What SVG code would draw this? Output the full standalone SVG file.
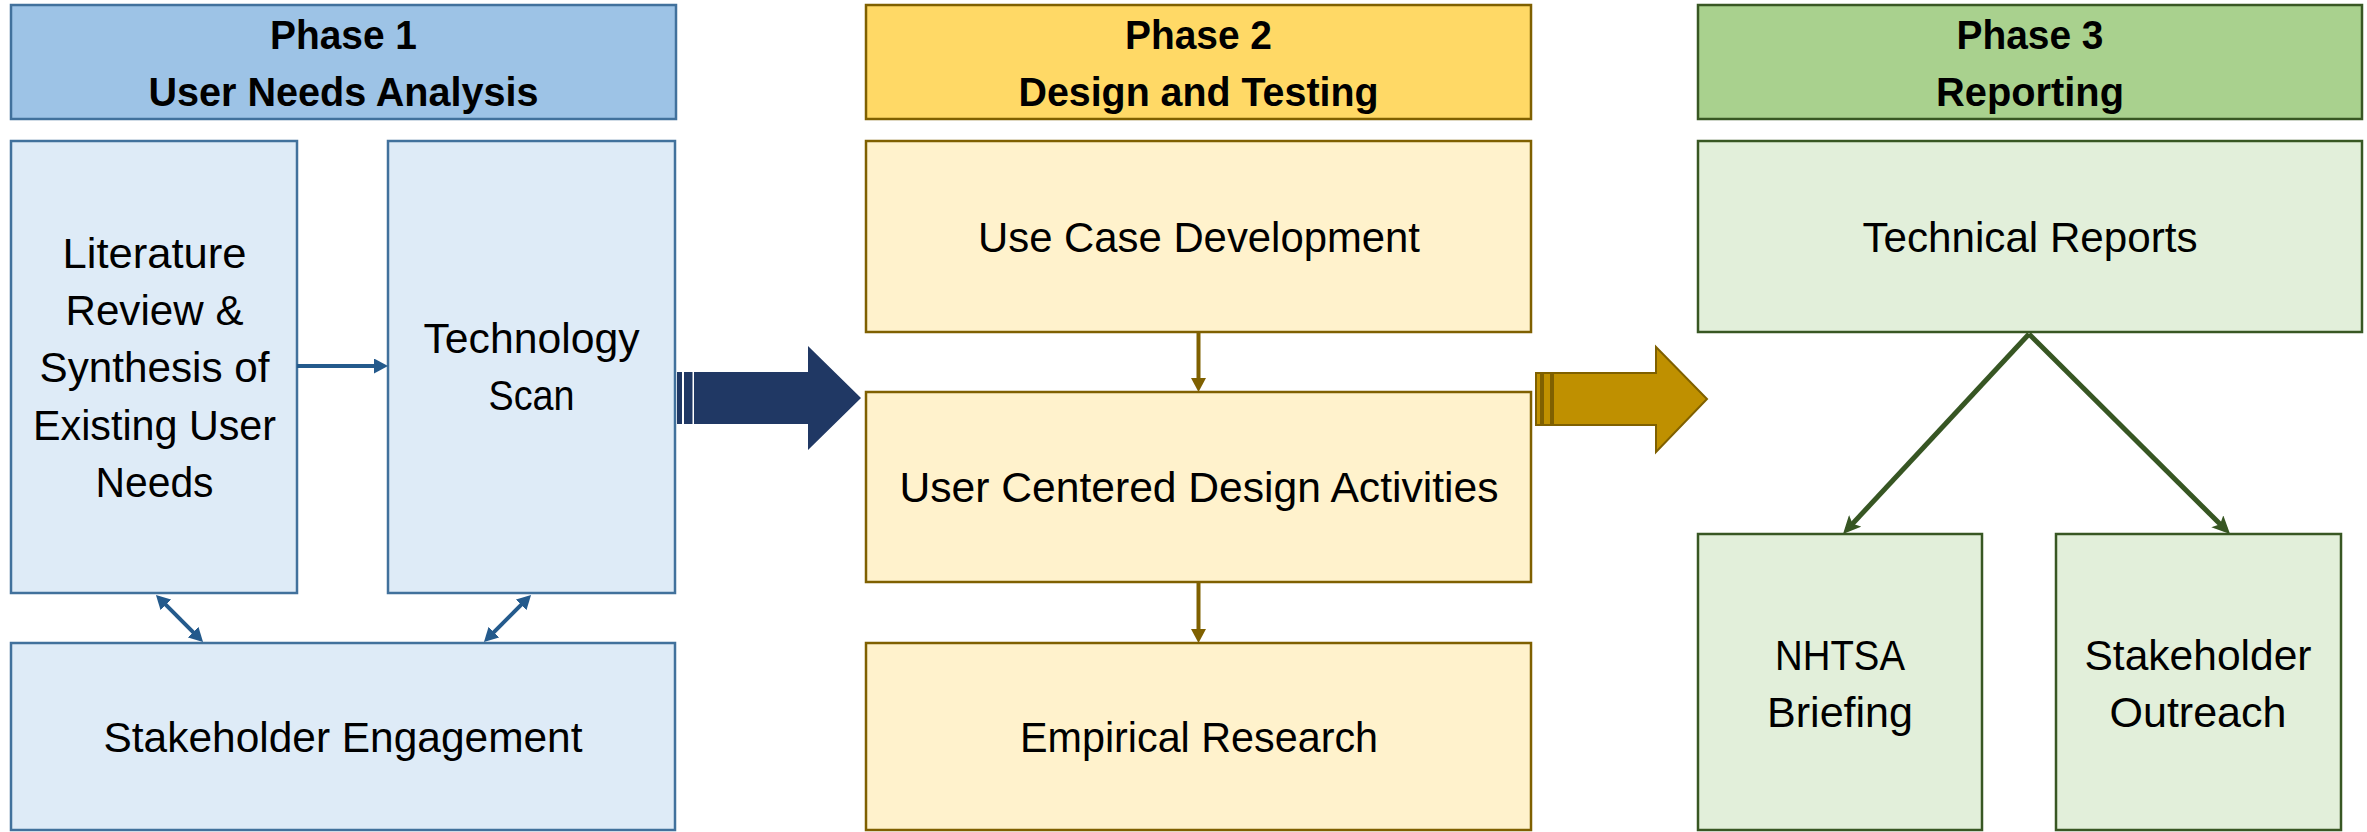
<svg xmlns="http://www.w3.org/2000/svg" width="2367" height="832" viewBox="0 0 2367 832">
  <style>
    text { font-family: "Liberation Sans", Arial, sans-serif; fill: #000; text-anchor: middle; }
    .hd { font-size: 41px; font-weight: bold; }
    .bd { font-size: 42px; }
    .p1h { fill: #9DC3E6; stroke: #41719C; stroke-width: 2.5; }
    .p1b { fill: #DEEBF7; stroke: #41719C; stroke-width: 2.5; }
    .p2h { fill: #FFD966; stroke: #7F6000; stroke-width: 2.5; }
    .p2b { fill: #FFF2CC; stroke: #7F6000; stroke-width: 2.5; }
    .p3h { fill: #A9D18E; stroke: #385723; stroke-width: 2.5; }
    .p3b { fill: #E2EFDA; stroke: #385723; stroke-width: 2.5; }
    .c1 { stroke: #245A8C; stroke-width: 4; fill: none; }
    .c2 { stroke: #7F6000; stroke-width: 4; fill: none; }
    .c3 { stroke: #375623; stroke-width: 5; fill: none; }
  </style>
  <defs>
    <marker id="hBlue" markerUnits="userSpaceOnUse" markerWidth="14" markerHeight="15" refX="8" refY="7.5" orient="auto-start-reverse">
      <path d="M0,0 L14,7.5 L0,15 z" fill="#245A8C"/>
    </marker>
    <marker id="hGold" markerUnits="userSpaceOnUse" markerWidth="14" markerHeight="15" refX="8" refY="7.5" orient="auto">
      <path d="M0,0 L14,7.5 L0,15 z" fill="#7F6000"/>
    </marker>
    <marker id="hGreen" markerUnits="userSpaceOnUse" markerWidth="18" markerHeight="17" refX="12" refY="8.5" orient="auto">
      <path d="M0,0 L18,8.5 L0,17 L4,8.5 z" fill="#375623"/>
    </marker>
  </defs>

  <!-- Phase 1 -->
  <g id="phase1-header">
    <rect class="p1h" x="11" y="5" width="665" height="114"/>
    <text class="hd" x="343.5" y="49" textLength="147" lengthAdjust="spacingAndGlyphs">Phase 1</text>
    <text class="hd" x="343.5" y="106" textLength="390" lengthAdjust="spacingAndGlyphs">User Needs Analysis</text>
  </g>
  <g id="literature-review">
    <rect class="p1b" x="11" y="141" width="286" height="452"/>
    <text class="bd" x="154.5" y="268" textLength="184" lengthAdjust="spacingAndGlyphs">Literature</text>
    <text class="bd" x="154.5" y="325" textLength="178" lengthAdjust="spacingAndGlyphs">Review &amp;</text>
    <text class="bd" x="154.5" y="382" textLength="230" lengthAdjust="spacingAndGlyphs">Synthesis of</text>
    <text class="bd" x="154.5" y="440" textLength="243" lengthAdjust="spacingAndGlyphs">Existing User</text>
    <text class="bd" x="154.5" y="497" textLength="118" lengthAdjust="spacingAndGlyphs">Needs</text>
  </g>
  <g id="technology-scan">
    <rect class="p1b" x="388" y="141" width="287" height="452"/>
    <text class="bd" x="531.5" y="353" textLength="216" lengthAdjust="spacingAndGlyphs">Technology</text>
    <text class="bd" x="531.5" y="410" textLength="86" lengthAdjust="spacingAndGlyphs">Scan</text>
  </g>
  <g id="stakeholder-engagement">
    <rect class="p1b" x="11" y="643" width="664" height="187"/>
    <text class="bd" x="343" y="752" textLength="479" lengthAdjust="spacingAndGlyphs">Stakeholder Engagement</text>
  </g>

  <!-- Phase 2 -->
  <g id="phase2-header">
    <rect class="p2h" x="866" y="5" width="665" height="114"/>
    <text class="hd" x="1198.5" y="49" textLength="147" lengthAdjust="spacingAndGlyphs">Phase 2</text>
    <text class="hd" x="1198.5" y="106" textLength="360" lengthAdjust="spacingAndGlyphs">Design and Testing</text>
  </g>
  <g id="use-case-development">
    <rect class="p2b" x="866" y="141" width="665" height="191"/>
    <text class="bd" x="1199" y="252" textLength="442" lengthAdjust="spacingAndGlyphs">Use Case Development</text>
  </g>
  <g id="ucd-activities">
    <rect class="p2b" x="866" y="392" width="665" height="190"/>
    <text class="bd" x="1199" y="502" textLength="599" lengthAdjust="spacingAndGlyphs">User Centered Design Activities</text>
  </g>
  <g id="empirical-research">
    <rect class="p2b" x="866" y="643" width="665" height="187"/>
    <text class="bd" x="1199" y="752" textLength="358" lengthAdjust="spacingAndGlyphs">Empirical Research</text>
  </g>

  <!-- Phase 3 -->
  <g id="phase3-header">
    <rect class="p3h" x="1698" y="5" width="664" height="114"/>
    <text class="hd" x="2030" y="49" textLength="147" lengthAdjust="spacingAndGlyphs">Phase 3</text>
    <text class="hd" x="2030" y="106" textLength="188" lengthAdjust="spacingAndGlyphs">Reporting</text>
  </g>
  <g id="technical-reports">
    <rect class="p3b" x="1698" y="141" width="664" height="191"/>
    <text class="bd" x="2030" y="252" textLength="335" lengthAdjust="spacingAndGlyphs">Technical Reports</text>
  </g>
  <g id="nhtsa-briefing">
    <rect class="p3b" x="1698" y="534" width="284" height="296"/>
    <text class="bd" x="1840" y="670" textLength="130" lengthAdjust="spacingAndGlyphs">NHTSA</text>
    <text class="bd" x="1840" y="727" textLength="146" lengthAdjust="spacingAndGlyphs">Briefing</text>
  </g>
  <g id="stakeholder-outreach">
    <rect class="p3b" x="2056" y="534" width="285" height="296"/>
    <text class="bd" x="2198" y="670" textLength="227" lengthAdjust="spacingAndGlyphs">Stakeholder</text>
    <text class="bd" x="2198" y="727" textLength="177" lengthAdjust="spacingAndGlyphs">Outreach</text>
  </g>

  <!-- Connectors -->
  <g id="connectors">
    <!-- phase 1 -->
    <path class="c1" d="M297,366 L382,366" marker-end="url(#hBlue)"/>
    <path class="c1" d="M160.2,599.2 L198.8,637.8" marker-start="url(#hBlue)" marker-end="url(#hBlue)"/>
    <path class="c1" d="M526.8,599.2 L488.2,637.8" marker-start="url(#hBlue)" marker-end="url(#hBlue)"/>
    <!-- phase 2 -->
    <path class="c2" d="M1198.5,332 L1198.5,386" marker-end="url(#hGold)"/>
    <path class="c2" d="M1198.5,582 L1198.5,637" marker-end="url(#hGold)"/>
    <!-- phase 3 -->
    <path class="c3" d="M2029,334 L1847.1,529.6" marker-end="url(#hGreen)"/>
    <path class="c3" d="M2029,334 L2225.8,529.8" marker-end="url(#hGreen)"/>

    <!-- phase 1 to phase 2: striped block arrow -->
    <g fill="#203864">
      <rect x="677" y="372" width="5" height="52"/>
      <rect x="684" y="372" width="8.5" height="52"/>
      <polygon points="694,372 808,372 808,346 861,398 808,450 808,424 694,424"/>
    </g>
    <!-- phase 2 to phase 3: striped block arrow -->
    <g fill="#BF9000" stroke="#7F6000" stroke-width="2" stroke-linejoin="miter">
      <rect x="1536" y="373" width="5" height="52"/>
      <rect x="1543" y="373" width="8" height="52"/>
      <polygon points="1553,373 1656,373 1656,347 1707,399 1656,452 1656,425 1553,425"/>
    </g>
  </g>
</svg>
